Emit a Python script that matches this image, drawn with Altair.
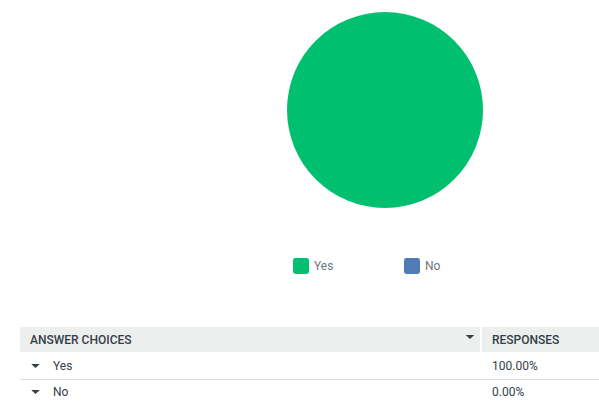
import altair as alt
import pandas as pd

answers = ["Yes", "No"]
shares = [100, 0]
responses = ["100.00%", "0.00%"]
header_left = ["ANSWER CHOICES"]
header_right = ["RESPONSES"]
colors = ["#00bf6f", "#507cb6"]

FONT = "Roboto"
pie_df = pd.DataFrame({"answer": answers, "share": shares})
rows_df = pd.DataFrame({"answer": answers, "response": responses})

rounded_sq = ("M-1,-0.7 Q-1,-1 -0.7,-1 L0.7,-1 Q1,-1 1,-0.7 L1,0.7 Q1,1 0.7,1 "
              "L-0.7,1 Q-1,1 -1,0.7 Z")
flat_tri = "M-1,-0.45 L1,-0.45 L0,0.45 Z"

pie = alt.Chart(pie_df).mark_arc(radius=98).encode(
    x=alt.value(385), y=alt.value(110),
    theta=alt.Theta("share:Q", stack=True),
    color=alt.Color("answer:N",
                    scale=alt.Scale(domain=answers, range=colors),
                    legend=alt.Legend(orient="none", legendX=293, legendY=258,
                                      direction="horizontal", title=None,
                                      symbolType=rounded_sq, symbolSize=256,
                                      symbolStrokeWidth=0, symbolOpacity=1,
                                      labelFont=FONT, labelFontSize=12,
                                      labelColor="#6b787f", labelOffset=5,
                                      columnPadding=70, padding=0)),
    order=alt.Order("share:Q", sort="descending"),
)

hdr_bg = alt.Chart(pd.DataFrame({"h": header_left})).mark_rect(color="#edeeee").encode(
    x=alt.value(20), x2=alt.value(599), y=alt.value(327), y2=alt.value(352))
hdr_div = alt.Chart(pd.DataFrame({"h": header_left})).mark_rule(color="#ffffff", strokeWidth=2).encode(
    x=alt.value(481), y=alt.value(327), y2=alt.value(352))
row_line = alt.Chart(pd.DataFrame({"h": header_left})).mark_rule(color="#d9dcde", strokeWidth=1).encode(
    x=alt.value(20), x2=alt.value(599), y=alt.value(379.5))

hdr_txt_l = alt.Chart(pd.DataFrame({"t": header_left})).mark_text(
    align="left", baseline="middle", font=FONT, fontSize=12, fontWeight=500, color="#333e48").encode(
    x=alt.value(30), y=alt.value(340), text="t:N")
hdr_txt_r = alt.Chart(pd.DataFrame({"t": header_right})).mark_text(
    align="left", baseline="middle", font=FONT, fontSize=12, fontWeight=500, color="#333e48").encode(
    x=alt.value(492), y=alt.value(340), text="t:N")
hdr_tri = alt.Chart(pd.DataFrame({"t": header_left})).mark_point(
    shape=flat_tri, filled=True, size=72, color="#333e48", opacity=1, strokeWidth=0).encode(
    x=alt.value(470), y=alt.value(337))

yscale = alt.Scale(domain=answers, range=[366, 392], type="point", padding=0)

row_tri = alt.Chart(rows_df).mark_point(
    shape=flat_tri, filled=True, size=72, color="#333e48", opacity=1, strokeWidth=0).encode(
    x=alt.value(35.5), y=alt.Y("answer:N", scale=yscale, axis=None))
row_lbl = alt.Chart(rows_df).mark_text(
    align="left", baseline="middle", font=FONT, fontSize=12, color="#333e48").encode(
    x=alt.value(53), y=alt.Y("answer:N", scale=yscale, axis=None), text="answer:N")
row_val = alt.Chart(rows_df).mark_text(
    align="left", baseline="middle", font=FONT, fontSize=12, color="#333e48").encode(
    x=alt.value(492), y=alt.Y("answer:N", scale=yscale, axis=None), text="response:N")

chart = alt.layer(pie, hdr_bg, hdr_div, row_line, hdr_txt_l, hdr_txt_r, hdr_tri,
                  row_tri, row_lbl, row_val).resolve_scale(y="independent").properties(
    width=599, height=403, padding=0, autosize=alt.AutoSizeParams(type="none"),
).configure_view(stroke=None)

chart.save("out.html", embed_options={"renderer": "svg", "actions": False})
